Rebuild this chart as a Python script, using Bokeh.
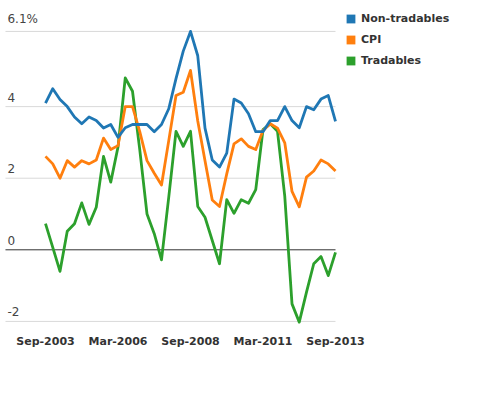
from bokeh.plotting import figure
from bokeh.models import Legend, LegendItem, Range1d
from bokeh.core.properties import value
from bokeh.embed import file_html
from bokeh.resources import INLINE

# Quarterly annual inflation, Sep-2003 .. Sep-2013 (41 quarters)
non_tradables = [4.10, 4.50, 4.20, 4.00, 3.71, 3.52, 3.71, 3.61, 3.40, 3.50,
                 3.14, 3.41, 3.50, 3.50, 3.50, 3.30, 3.50, 3.94, 4.78, 5.55,
                 6.10, 5.42, 3.40, 2.51, 2.31, 2.70, 4.21, 4.10, 3.80, 3.30,
                 3.30, 3.61, 3.61, 4.00, 3.61, 3.41, 4.00, 3.91, 4.21, 4.31, 3.59]
cpi = [2.61, 2.40, 2.00, 2.49, 2.31, 2.49, 2.40, 2.51, 3.12, 2.80,
       2.91, 4.00, 4.00, 3.30, 2.49, 2.14, 1.81, 3.05, 4.31, 4.40,
       5.01, 3.60, 2.49, 1.39, 1.21, 2.12, 2.96, 3.10, 2.89, 2.80,
       3.33, 3.52, 3.40, 2.99, 1.63, 1.20, 2.03, 2.20, 2.51, 2.40, 2.20]
tradables = [0.73, 0.07, -0.60, 0.52, 0.73, 1.31, 0.71, 1.19, 2.61, 1.89,
             2.87, 4.80, 4.43, 2.80, 1.00, 0.45, -0.28, 1.47, 3.31, 2.89,
             3.31, 1.21, 0.91, 0.26, -0.39, 1.40, 1.02, 1.40, 1.30, 1.68,
             3.36, 3.52, 3.31, 1.50, -1.51, -2.02, -1.18, -0.39, -0.19, -0.72, -0.07]
quarter_index = list(range(len(cpi)))

tick_positions = [0, 10, 20, 30, 40]
tick_labels = ["Sep-2003", "Mar-2006", "Sep-2008", "Mar-2011", "Sep-2013"]

y_ticks = [-2, 0, 2, 4, 6.1]
y_tick_labels = ["-2", "0", "2", "4", "6.1%"]

series_names = ["Non-tradables", "CPI", "Tradables"]
series_colors = ["#1f77b4", "#ff7f0e", "#2ca02c"]

# layout (view) constants
W, H = 470, 360
X_START, X_END = -6.207, 58.62
Y_START, Y_END = -3.092, 6.964
GRID_LEFT = -5.52
GRID_RIGHT = quarter_index[-1]
Y_MIN = min(y_ticks)

p = figure(width=W, height=H, output_backend="svg", toolbar_location=None,
           x_range=Range1d(X_START, X_END), y_range=Range1d(Y_START, Y_END),
           x_axis_location=None, y_axis_location=None,
           min_border_left=0, min_border_right=0, min_border_top=0, min_border_bottom=0)
p.outline_line_color = None
p.background_fill_color = "white"
p.border_fill_color = "white"
p.xgrid.visible = False
p.ygrid.visible = False

# horizontal grid lines (light) and the zero line (dark)
grid_vals = [t for t in y_ticks if t != 0]
p.segment(x0=[GRID_LEFT] * len(grid_vals), x1=[GRID_RIGHT] * len(grid_vals),
          y0=grid_vals, y1=grid_vals, line_color="#d9d9d9", line_width=1)
p.segment(x0=[GRID_LEFT], x1=[GRID_RIGHT], y0=[0], y1=[0],
          line_color="#333333", line_width=1)

# y tick labels drawn above each grid line at the left edge
p.text(x=[GRID_LEFT] * len(y_ticks), y=y_ticks, text=y_tick_labels,
       text_font=value("DejaVu Sans"), text_font_size="12px", text_color="#444444",
       text_align="left", text_baseline="bottom", x_offset=2, y_offset=-5)

# x tick labels below the bottom grid line
p.text(x=tick_positions, y=[Y_MIN] * len(tick_positions), text=tick_labels,
       text_font=value("DejaVu Sans"), text_font_size="11px", text_font_style="bold",
       text_color="#333333", text_align="center", text_baseline="middle", y_offset=20)

data = [non_tradables, cpi, tradables]
for vals, col in reversed(list(zip(data, series_colors))):
    p.line(quarter_index, vals, line_color=col, line_width=2.8, line_join="round")

items = []
nan = float("nan")
for name, col in zip(series_names, series_colors):
    r = p.quad(left=[nan], right=[nan], top=[nan], bottom=[nan],
               fill_color=col, line_color=None)
    items.append(LegendItem(label=name, renderers=[r]))

legend = Legend(items=items, location=(345, 291), orientation="vertical",
                glyph_width=11, glyph_height=11, label_height=18, spacing=3,
                label_standoff=5, padding=0, margin=0,
                border_line_color=None, background_fill_alpha=0,
                label_text_font="DejaVu Sans", label_text_font_size="11px",
                label_text_font_style="bold", label_text_color="#333333")
p.add_layout(legend, "center")

open("out.html", "w").write(file_html(p, INLINE))
